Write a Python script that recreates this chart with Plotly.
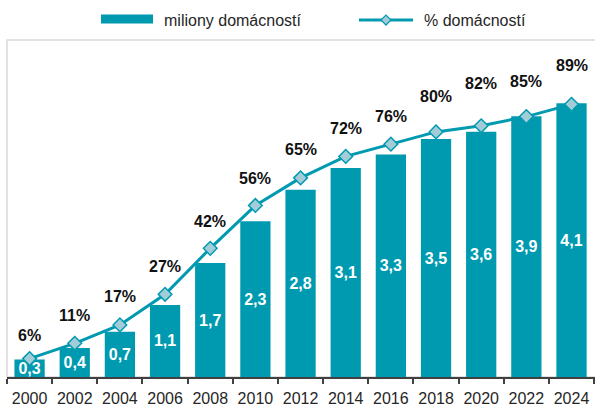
import plotly.graph_objects as go

years = ["2000", "2002", "2004", "2006", "2008", "2010", "2012",
         "2014", "2016", "2018", "2020", "2022", "2024"]
households_mil = [0.26, 0.43, 0.67, 1.07, 1.69, 2.31, 2.78, 3.10, 3.30, 3.53, 3.64, 3.87, 4.06]
households_lbl = ["0,3", "0,4", "0,7", "1,1", "1,7", "2,3", "2,8", "3,1", "3,3", "3,5", "3,6", "3,9", "4,1"]
households_pct = [6, 11, 17, 27, 42, 56, 65, 72, 76, 80, 82, 85, 89]
pct_label_shift = [23, 28, 28, 28, 27, 27, 28, 28, 28, 35, 42, 35, 39]

series_bar = "miliony domácností"
series_line = "% domácností"

TEAL = "#009AB0"
DIAMOND = "#A3CCD9"
FONT = "Liberation Sans, Arial, sans-serif"

W, H = 595, 407
ML, MR, MT, MB = 7, 0, 39.5, 30
PW, PH = W - ML - MR, H - MT - MB


def px(x):
    return (x - ML) / PW


def py(y):
    return (H - MB - y) / PH


fig = go.Figure()
fig.add_trace(go.Bar(
    x=years, y=households_mil, name=series_bar,
    marker=dict(color=TEAL, line=dict(width=0)),
    text=households_lbl, textposition="inside", insidetextanchor="middle",
    textfont=dict(family=FONT, size=16, color="white", weight="bold"),
    showlegend=False, cliponaxis=False,
))
fig.add_trace(go.Scatter(
    x=years, y=households_pct, name=series_line, yaxis="y2",
    mode="lines+markers",
    line=dict(color=TEAL, width=3),
    marker=dict(symbol="diamond", size=10.5, color=DIAMOND, line=dict(color=TEAL, width=1.5)),
    showlegend=False, cliponaxis=False,
))

annotations = []
for i, (p, s) in enumerate(zip(households_pct, pct_label_shift)):
    annotations.append(dict(
        x=i, y=p, xref="x", yref="y2", text=f"{p}%", showarrow=False,
        yshift=s, yanchor="middle", xanchor="center",
        font=dict(family=FONT, size=16, color="#111111", weight="bold"),
    ))

# legend (drawn manually)
annotations.append(dict(x=px(162), y=py(19.5), xref="paper", yref="paper", text=series_bar,
                        showarrow=False, xanchor="left", yanchor="middle",
                        font=dict(family=FONT, size=16, color="#262626")))
annotations.append(dict(x=px(422), y=py(19.5), xref="paper", yref="paper", text=series_line,
                        showarrow=False, xanchor="left", yanchor="middle",
                        font=dict(family=FONT, size=16, color="#262626")))

shapes = [
    # plot-area frame
    dict(type="rect", xref="paper", yref="paper", x0=0, x1=1.02, y0=0, y1=1,
         line=dict(color="#D9D9D9", width=1.5), layer="below"),
    # legend bar swatch
    dict(type="rect", xref="paper", yref="paper", x0=px(101), x1=px(153), y0=py(23), y1=py(14),
         fillcolor=TEAL, line=dict(width=0)),
    # legend line swatch
    dict(type="line", xref="paper", yref="paper", x0=px(359), x1=px(413), y0=py(19.5), y1=py(19.5),
         line=dict(color=TEAL, width=3)),
    dict(type="path", xref="paper", yref="paper", xsizemode="pixel", ysizemode="pixel",
         xanchor=px(386), yanchor=py(19.5), path="M -5 0 L 0 5 L 5 0 L 0 -5 Z",
         fillcolor=DIAMOND, line=dict(color=TEAL, width=1.2)),
]

fig.update_layout(
    width=W, height=H,
    margin=dict(l=ML, r=MR, t=MT, b=MB, pad=0, autoexpand=False),
    paper_bgcolor="white", plot_bgcolor="white",
    bargap=0.33,
    font=dict(family=FONT, color="#262626"),
    xaxis=dict(type="category", range=[-0.5, 12.52], showgrid=False, automargin=False,
               showline=True, linecolor="#404040", linewidth=1.5,
               ticks="outside", ticklen=5, tickcolor="#404040", tickwidth=1.5,
               tickson="boundaries", tickangle=0, ticklabelstandoff=6,
               tickfont=dict(family=FONT, size=16, color="#262626"),
               zeroline=False),
    yaxis=dict(range=[0, 5], visible=False, showgrid=False, zeroline=False, automargin=False),
    yaxis2=dict(range=[0, 110], overlaying="y", visible=False, showgrid=False, zeroline=False,
                automargin=False),
    annotations=annotations,
    shapes=shapes,
    showlegend=False,
    uniformtext=dict(minsize=16, mode="show"),
)

fig.write_html(
    "out.html",
    config={"displayModeBar": False},
    post_script="document.body.style.margin='0';document.body.style.overflow='hidden';",
)
